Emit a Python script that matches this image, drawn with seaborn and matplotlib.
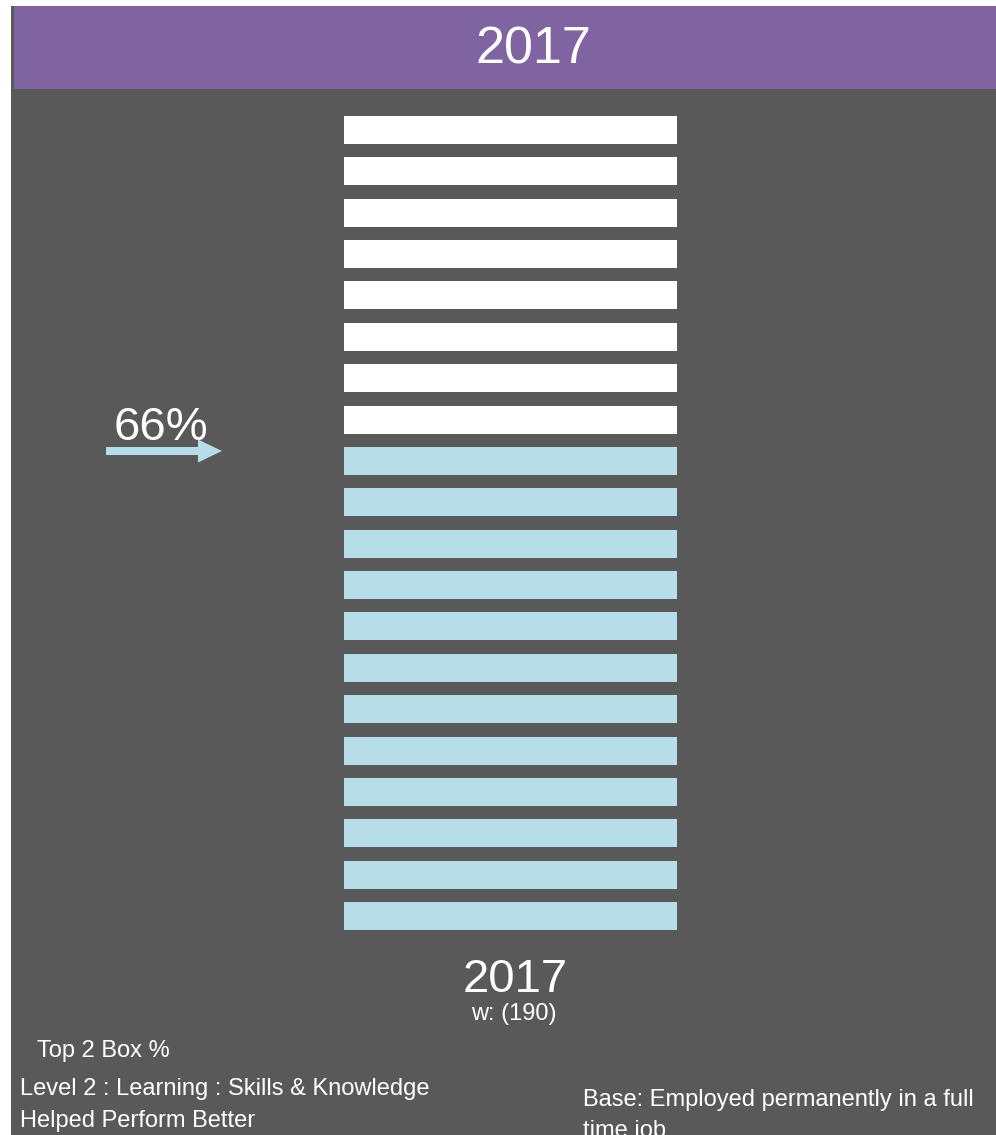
import numpy as np
import pandas as pd
import matplotlib
matplotlib.use("Agg")
import matplotlib.pyplot as plt
import seaborn as sns
from matplotlib.patches import Rectangle, FancyArrow

# --- data ---
year = "2017"
base_w = "w: (190)"
top2_pct = "66%"
block_ids = ["b01", "b02", "b03", "b04", "b05", "b06", "b07", "b08", "b09", "b10",
             "b11", "b12", "b13", "b14", "b15", "b16", "b17", "b18", "b19", "b20"]
block_share = [1, 1, 1, 1, 1, 1, 1, 1, 1, 1,
               1, 1, 1, 1, 1, 1, 1, 1, 1, 1]
block_state = ["rest", "rest", "rest", "rest", "rest", "rest", "rest", "rest",
               "top2", "top2", "top2", "top2", "top2", "top2", "top2", "top2",
               "top2", "top2", "top2", "top2"]

GREY = "#595959"
PURPLE = "#8064A2"
BLUE = "#B6DDE8"

sns.set_style("white")
plt.rcParams["font.family"] = ["Liberation Sans", "DejaVu Sans"]

W, H = 996, 1135
fig = plt.figure(figsize=(W / 100, H / 100), dpi=100, facecolor="white")

# background canvas in pixel units
bg = fig.add_axes([0, 0, 1, 1], zorder=0)
bg.set_xlim(0, W)
bg.set_ylim(H, 0)
bg.axis("off")
bg.add_patch(Rectangle((11, 6), W, H, color=GREY, lw=0, clip_on=False))
bg.add_patch(Rectangle((14, 6), W, 83, color=PURPLE, lw=0, clip_on=False))

# bars
df = pd.DataFrame({"block": block_ids, "share": block_share, "state": block_state})
bar_w = 0.677
ax = fig.add_axes([344 / W, (H - 930) / H, 333 / W, 814 / H], zorder=1)
sns.barplot(data=df, x="share", y="block", hue="state", order=block_ids,
            palette={"rest": "white", "top2": BLUE}, orient="h", dodge=False,
            width=bar_w, saturation=1, linewidth=0, legend=False, ax=ax)
ax.set_xlim(0, 1)
ax.set_ylim(len(block_ids) - 1 + bar_w / 2, -bar_w / 2)
ax.axis("off")

# arrow + label
bg.add_patch(FancyArrow(106, 451, 116, 0, width=8, head_width=23, head_length=24,
                        length_includes_head=True, color=BLUE, lw=0))
bg.text(114, 440, top2_pct, color="white", fontsize=34, ha="left", va="baseline")

# texts
bg.text(533, 63, year, color="white", fontsize=37.5, ha="center", va="baseline")
bg.text(515, 992, year, color="white", fontsize=34, ha="center", va="baseline")
bg.text(514, 1020, base_w, color="white", fontsize=17, ha="center", va="baseline")
bg.text(37, 1057, "Top 2 Box %", color="white", fontsize=17, ha="left", va="baseline")
bg.text(20, 1095, "Level 2 : Learning : Skills & Knowledge", color="white",
        fontsize=17, ha="left", va="baseline")
bg.text(20, 1127, "Helped Perform Better", color="white",
        fontsize=17, ha="left", va="baseline")
bg.text(583, 1106, "Base: Employed permanently in a full", color="white",
        fontsize=17, ha="left", va="baseline")
bg.text(583, 1137, "time job", color="white",
        fontsize=17, ha="left", va="baseline")

fig.savefig("out.png", dpi=100, facecolor=fig.get_facecolor())
